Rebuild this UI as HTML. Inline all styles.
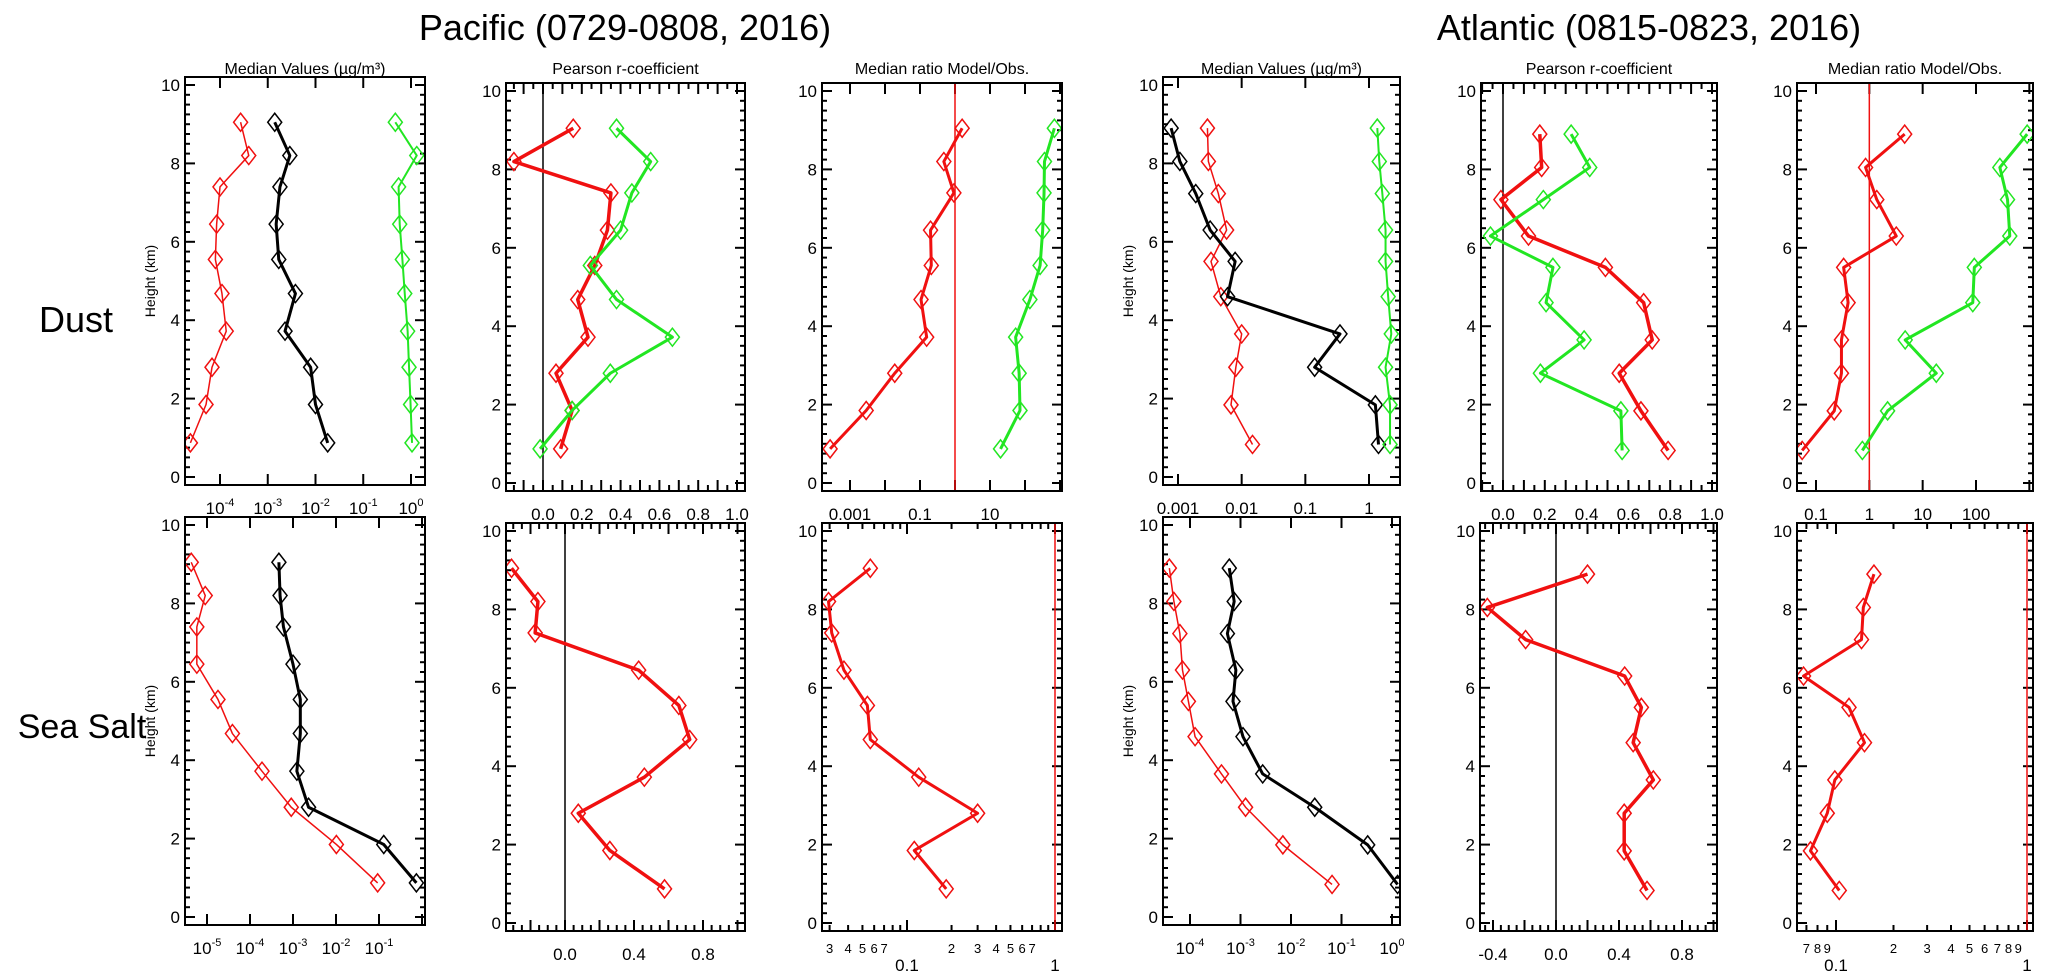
<!DOCTYPE html>
<html><head><meta charset="utf-8"><style>
html,body{margin:0;padding:0;background:#fff;}
svg{display:block;font-family:"Liberation Sans",sans-serif;}
</style></head><body>
<svg id="fig" width="2067" height="974" viewBox="0 0 2067 974" xmlns="http://www.w3.org/2000/svg">
<text x="625" y="40" font-size="36" text-anchor="middle">Pacific (0729-0808, 2016)</text>
<text x="1649" y="40" font-size="36" text-anchor="middle">Atlantic (0815-0823, 2016)</text>
<text x="76" y="332" font-size="36" text-anchor="middle">Dust</text>
<text x="82" y="738" font-size="34" text-anchor="middle">Sea Salt</text>
</svg>
<script>
// heights (km)
const hPac = [0.87,1.85,2.8,3.72,4.68,5.55,6.45,7.4,8.2,9.05];
const hAtl = [0.83,1.84,2.8,3.65,4.6,5.5,6.3,7.23,8.05,8.9];
// Pacific dust
const pdMedRed = [2.4e-5,5.1e-5,6.8e-5,1.35e-4,1.1e-4,8e-5,8.5e-5,1.0e-4,4.0e-4,2.7e-4];
const pdMedBlack = [0.018,0.010,0.0079,0.0023,0.0038,0.0017,0.0015,0.0018,0.0029,0.0014];
const pdMedGreen = [1.05,0.98,0.91,0.85,0.74,0.66,0.58,0.55,1.32,0.47];
const pdPearRed = [0.091,0.150,0.067,0.232,0.179,0.267,0.332,0.35,-0.15,0.156];
const pdPearGreen = [-0.015,0.15,0.347,0.667,0.379,0.244,0.40,0.458,0.555,0.379];
const pdRatioRed = [2.7e-4,2.9e-3,0.019,0.155,0.107,0.21,0.2,0.93,0.48,1.6];
const pdRatioGreen = [20,72,68,54,138,270,320,350,360,690];
// Atlantic dust
const adMedRed = [0.0148,0.0068,0.0081,0.010,0.0047,0.0033,0.0058,0.0043,0.0030,0.0029];
const adMedBlack = [1.41,1.26,0.14,0.35,0.006,0.0079,0.0032,0.0019,0.00107,0.00078];
const adMedGreen = [2.14,2.14,1.82,2.24,2.0,1.82,1.82,1.62,1.45,1.35];
const adPearRed = [0.79,0.66,0.556,0.714,0.673,0.49,0.122,-0.01,0.185,0.176];
const adPearGreen = [0.57,0.564,0.179,0.388,0.206,0.239,-0.06,0.193,0.415,0.326];
const adRatioRed = [0.055,0.22,0.30,0.30,0.40,0.33,3.2,1.38,0.85,4.6];
const adRatioGreen = [0.74,2.2,18,4.7,87,93,430,390,280,910];
// Pacific sea salt
const psMedRed = [0.093,0.0102,9.1e-4,1.9e-4,3.9e-5,1.8e-5,5.8e-6,5.8e-6,9.1e-6,4.3e-6];
const psMedBlack = [0.74,0.129,0.0023,0.00123,0.00148,0.00148,0.0010,0.0006,0.0005,0.00047];
const psPearRed = [0.577,0.26,0.077,0.46,0.723,0.66,0.427,-0.173,-0.157,-0.31];
const psRatioRed = [0.184,0.112,0.30,0.12,0.0565,0.054,0.0375,0.031,0.0295,0.0565];
// Atlantic sea salt
const asMedRed = [0.065,0.0069,0.00126,4.2e-4,1.26e-4,9.3e-5,7.1e-5,6.3e-5,4.8e-5,3.9e-5];
const asMedBlack = [1.29,0.33,0.0295,0.00275,0.00112,7.1e-4,8.1e-4,5.5e-4,7.5e-4,6.0e-4];
const asPearRed = [0.578,0.433,0.433,0.618,0.49,0.542,0.436,-0.193,-0.436,0.2];
const asRatioRed = [0.104,0.0735,0.090,0.0986,0.141,0.117,0.0676,0.136,0.139,0.158];

const RED = '#f01010', GREEN = '#22e622', BLACK = '#000';
const NS = 'http://www.w3.org/2000/svg';
const svg = document.getElementById('fig');
function mk(tag, attrs, parent){
  const e = document.createElementNS(NS, tag);
  for (const k in attrs) e.setAttribute(k, attrs[k]);
  (parent || svg).appendChild(e);
  return e;
}
const KM = 39.2;
function sx(p, v){
  if (p.type === 'log') {
    const a = Math.log10(p.v1), b = Math.log10(p.v2);
    return p.p1 + (Math.log10(v) - a) / (b - a) * (p.p2 - p.p1);
  }
  return p.p1 + (v - p.v1) / (p.v2 - p.v1) * (p.p2 - p.p1);
}
function sy(p, h){ return p.y0 - h * KM; }

function decadeTicks(d0, d1, labels, sup, minor){
  const out = [];
  for (let d = d0; d <= d1; d++) {
    for (let m = 1; m <= (minor ? 9 : 1); m++) {
      out.push({v: m * Math.pow(10, d), major: m === 1, d: d, m: m});
    }
  }
  return out;
}
function linTicks(a, b, step, majStep, labelVals){
  const out = [];
  for (let v = a; v <= b + 1e-9; v += step) {
    const r = Math.round(v * 100) / 100;
    const maj = Math.abs(r / majStep - Math.round(r / majStep)) < 1e-6;
    const lab = labelVals.some(x => Math.abs(x - r) < 1e-6) ? r.toFixed(1) : null;
    out.push({v: r, major: maj, label: lab});
  }
  return out;
}

function drawPanel(p){
  const g = mk('g', {});
  
  
  const top = p.y0 - 400, bot = p.y0 + 8, L = p.L, R = p.R;
  const clipId = 'clip-' + p.name;
  const cp = mk('clipPath', {id: clipId}, g);
  mk('rect', {x: L, y: top, width: R - L, height: bot - top}, cp);
  for (let i = 0; i <= 40; i++) {
    const h = i * 0.25, y = sy(p, h);
    const maj = (i % 8 === 0);
    const len = maj ? 10 : 5;
    mk('line', {x1: L, y1: y, x2: L + len, y2: y, stroke: '#000', 'stroke-width': 2}, g);
    mk('line', {x1: R - len, y1: y, x2: R, y2: y, stroke: '#000', 'stroke-width': 2}, g);
    if (maj) {
      const t = mk('text', {x: L - 5, y: y + 6, 'font-size': 17, 'text-anchor': 'end'}, g);
      t.textContent = String(h);
      
      
    }
  }
  p.ticks.forEach(tk => {
    const x = sx(p, tk.v);
    if (x < L - 0.5 || x > R + 0.5) return;
    const len = tk.major ? 11 : 6;
    mk('line', {x1: x, y1: bot, x2: x, y2: bot - len, stroke: '#000', 'stroke-width': 2}, g);
    mk('line', {x1: x, y1: top, x2: x, y2: top + len, stroke: '#000', 'stroke-width': 2}, g);
    if (tk.label) {
      const ly = bot + (tk.row === 1 ? 40 : (tk.small ? 22 : 29));
      const t = mk('text', {x: x, y: ly, 'font-size': tk.small ? 13 : 17, 'text-anchor': 'middle'}, g);
      
      
      if (tk.sup) {
        const a = mk('tspan', {}, t); a.textContent = '10';
        const b = mk('tspan', {dy: -8, 'font-size': 11}, t); b.textContent = tk.sup;
      } else t.textContent = tk.label;
    }
  });
  if (p.vline) {
    const x = sx(p, p.vline.v);
    const ln = mk('line', {x1: x, y1: top, x2: x, y2: bot, stroke: p.vline.color, 'stroke-width': 1.5}, g);
    
    
  }
  const sg = mk('g', {'clip-path': 'url(#' + clipId + ')'}, g);
  p.series.forEach(s => {
    const pts = s.vals.map((v, i) => [sx(p, v), sy(p, s.h[i])]);
    const pl = mk('polyline', {points: pts.map(q => q.join(',')).join(' '), fill: 'none', stroke: s.color, 'stroke-width': s.w, 'stroke-linejoin': 'round'}, sg);
    
    
    pts.forEach(q => {
      const d = 'M' + q[0] + ',' + (q[1] - 9) + 'L' + (q[0] + 7) + ',' + q[1] + 'L' + q[0] + ',' + (q[1] + 9) + 'L' + (q[0] - 7) + ',' + q[1] + 'Z';
      const m = mk('path', {d: d, fill: 'none', stroke: s.color, 'stroke-width': 1.5}, sg);
      
      
    });
  });
  mk('rect', {x: L, y: top, width: R - L, height: bot - top, fill: 'none', stroke: '#000', 'stroke-width': 2}, g);
  if (p.title) {
    const t = mk('text', {x: (L + R) / 2, y: 74, 'font-size': 16, 'text-anchor': 'middle'}, g);
    t.textContent = p.title;
    
    
  }
  if (p.ylab) {
    const cy = p.y0 - 196;
    const t = mk('text', {x: L - 30, y: cy, 'font-size': 14, 'text-anchor': 'middle', transform: 'rotate(-90 ' + (L - 30) + ' ' + cy + ')'}, g);
    t.textContent = 'Height (km)';
    
    
  }
}

function supTicks(d0, d1, labeled){
  return decadeTicks(d0, d1).map(t => {
    if (labeled.includes(t.d)) { t.label = '10'; t.sup = String(t.d); }
    return t;
  });
}
function plainDecades(d0, d1, labels){
  return decadeTicks(d0, d1).map(t => {
    if (labels[t.d] !== undefined) t.label = labels[t.d];
    return t;
  });
}
function minorLog(d0, d1, minorLabels, majorLabels){
  return decadeTicks(d0, d1, null, null, true).map(t => {
    if (t.m === 1 && majorLabels[t.d] !== undefined) { t.label = majorLabels[t.d]; t.row = 1; }
    if (t.m > 1 && minorLabels[t.d] && minorLabels[t.d].includes(t.m)) { t.label = String(t.m); t.small = true; }
    return t;
  });
}
const TT = 'Median Values (\u00b5g/m\u00b3)', TP = 'Pearson r-coefficient', TR = 'Median ratio Model/Obs.';

const panels = [
 {name:'pacific-dust-median', L:185, R:425, y0:477, type:'log', v1:1e-4, p1:220, v2:1, p2:411, title:TT, ylab:true,
  ticks: supTicks(-5, 0, [-4,-3,-2,-1,0]),
  series:[{name:'obs-red',vals:pdMedRed,h:hPac,color:RED,w:1.5},{name:'model-black',vals:pdMedBlack,h:hPac,color:BLACK,w:3},{name:'green',vals:pdMedGreen,h:hPac,color:GREEN,w:2}]},
 {name:'pacific-dust-pearson', L:506, R:745, y0:483, type:'lin', v1:0, p1:543, v2:1, p2:737, title:TP,
  ticks: linTicks(-0.2, 1.05, 0.05, 0.1, [0,0.2,0.4,0.6,0.8,1.0]), vline:{v:0,color:BLACK},
  series:[{name:'red',vals:pdPearRed,h:hPac,color:RED,w:3.5},{name:'green',vals:pdPearGreen,h:hPac,color:GREEN,w:3}]},
 {name:'pacific-dust-ratio', L:822, R:1062, y0:483, type:'log', v1:0.001, p1:850, v2:10, p2:990, title:TR,
  ticks: plainDecades(-4, 3, {'-3':'0.001','-1':'0.1','1':'10'}), vline:{v:1,color:RED},
  series:[{name:'red',vals:pdRatioRed,h:hPac,color:RED,w:3},{name:'green',vals:pdRatioGreen,h:hPac,color:GREEN,w:3}]},
 {name:'atlantic-dust-median', L:1163, R:1400, y0:477, type:'log', v1:0.001, p1:1178, v2:1, p2:1369, title:TT, ylab:true,
  ticks: plainDecades(-3, 0, {'-3':'0.001','-2':'0.01','-1':'0.1','0':'1'}),
  series:[{name:'obs-red',vals:adMedRed,h:hAtl,color:RED,w:1.5},{name:'model-black',vals:adMedBlack,h:hAtl,color:BLACK,w:3},{name:'green',vals:adMedGreen,h:hAtl,color:GREEN,w:2}]},
 {name:'atlantic-dust-pearson', L:1481, R:1717, y0:483, type:'lin', v1:0, p1:1503, v2:1, p2:1712, title:TP,
  ticks: linTicks(-0.1, 1.05, 0.05, 0.1, [0,0.2,0.4,0.6,0.8,1.0]), vline:{v:0,color:BLACK},
  series:[{name:'red',vals:adPearRed,h:hAtl,color:RED,w:3.5},{name:'green',vals:adPearGreen,h:hAtl,color:GREEN,w:3}]},
 {name:'atlantic-dust-ratio', L:1797, R:2033, y0:483, type:'log', v1:0.1, p1:1816, v2:100, p2:1976, title:TR,
  ticks: plainDecades(-1, 3, {'-1':'0.1','0':'1','1':'10','2':'100'}), vline:{v:1,color:RED},
  series:[{name:'red',vals:adRatioRed,h:hAtl,color:RED,w:3},{name:'green',vals:adRatioGreen,h:hAtl,color:GREEN,w:3}]},
 {name:'pacific-seasalt-median', L:185, R:425, y0:917, type:'log', v1:1e-5, p1:207, v2:0.1, p2:379, ylab:true,
  ticks: supTicks(-6, 0, [-5,-4,-3,-2,-1]),
  series:[{name:'obs-red',vals:psMedRed,h:hPac,color:RED,w:1.5},{name:'model-black',vals:psMedBlack,h:hPac,color:BLACK,w:3}]},
 {name:'pacific-seasalt-pearson', L:506, R:745, y0:923, type:'lin', v1:0, p1:565, v2:0.8, p2:703,
  ticks: linTicks(-0.35, 1.05, 0.05, 0.2, [0,0.4,0.8]), vline:{v:0,color:BLACK},
  series:[{name:'red',vals:psPearRed,h:hPac,color:RED,w:3.5}]},
 {name:'pacific-seasalt-ratio', L:822, R:1062, y0:923, type:'log', v1:0.1, p1:907, v2:1, p2:1055,
  ticks: minorLog(-2, 0, {'-2':[3,4,5,6,7],'-1':[2,3,4,5,6,7]}, {'-1':'0.1','0':'1'}), vline:{v:1,color:RED},
  series:[{name:'red',vals:psRatioRed,h:hPac,color:RED,w:3}]},
 {name:'atlantic-seasalt-median', L:1163, R:1400, y0:917, type:'log', v1:1e-4, p1:1190, v2:1, p2:1392, ylab:true,
  ticks: supTicks(-5, 0, [-4,-3,-2,-1,0]),
  series:[{name:'obs-red',vals:asMedRed,h:hAtl,color:RED,w:1.5},{name:'model-black',vals:asMedBlack,h:hAtl,color:BLACK,w:3}]},
 {name:'atlantic-seasalt-pearson', L:1480, R:1717, y0:923, type:'lin', v1:0, p1:1556, v2:0.8, p2:1682,
  ticks: linTicks(-0.45, 1.05, 0.05, 0.2, [-0.4,0,0.4,0.8]), vline:{v:0,color:BLACK},
  series:[{name:'red',vals:asPearRed,h:hAtl,color:RED,w:3.5}]},
 {name:'atlantic-seasalt-ratio', L:1797, R:2033, y0:923, type:'log', v1:0.1, p1:1836, v2:1, p2:2027,
  ticks: minorLog(-2, 0, {'-2':[7,8,9],'-1':[2,3,4,5,6,7,8,9]}, {'-1':'0.1','0':'1'}), vline:{v:1,color:RED},
  series:[{name:'red',vals:asRatioRed,h:hAtl,color:RED,w:3}]}
];
panels.forEach(drawPanel);
</script>
</body></html>
